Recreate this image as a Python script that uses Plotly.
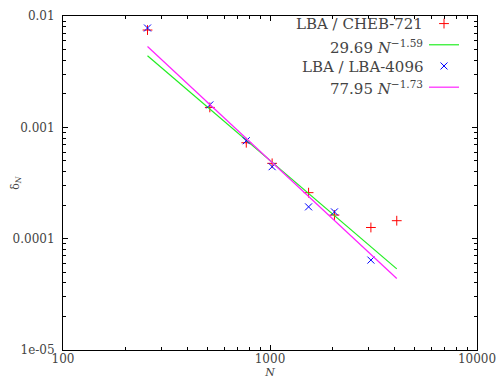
import plotly.graph_objects as go

# Convergence of the discrepancy delta_N with grid size N
N_cheb = [256, 512, 768, 1024, 1536, 2048, 3072, 4096]
delta_cheb = [0.00748, 0.00151, 0.000727, 0.000475, 0.000259, 0.000163, 0.000126, 0.000145]

N_lba = [256, 512, 768, 1024, 1536, 2048, 3072]
delta_lba = [0.00780, 0.00159, 0.000758, 0.000443, 0.000193, 0.000174, 0.0000642]

# Power-law fits  delta = a * N^b
fit_cheb = (29.69, -1.59)
fit_lba = (77.95, -1.73)
fit_N = [256, 4096]

legend_labels = [
    "LBA / CHEB-721",
    "29.69 <i>N</i><sup>−1.59</sup>",
    "LBA / LBA-4096",
    "77.95 <i>N</i><sup>−1.73</sup>",
]

x_tickvals = [100, 1000, 10000]
x_ticktext = ["100", "1000", "10000"]
y_tickvals = [1e-5, 1e-4, 1e-3, 1e-2]
y_ticktext = ["1e-05", "0.0001", "0.001", "0.01"]

SERIF = "DejaVu Serif"
TXT = "#444444"


def power_law(coef, xs):
    a, b = coef
    return [a * x ** b for x in xs]


fig = go.Figure()
fig.add_trace(go.Scatter(
    x=N_cheb, y=delta_cheb, mode="markers", name=" ",
    marker=dict(symbol="cross-thin", size=7, line=dict(color="#ff0000", width=1)),
))
fig.add_trace(go.Scatter(
    x=fit_N, y=power_law(fit_cheb, fit_N), mode="lines", name=" ",
    line=dict(color="#22ee22", width=1.2),
))
fig.add_trace(go.Scatter(
    x=N_lba, y=delta_lba, mode="markers", name=" ",
    marker=dict(symbol="x-thin", size=7, line=dict(color="#0000ff", width=1)),
))
fig.add_trace(go.Scatter(
    x=fit_N, y=power_law(fit_lba, fit_N), mode="lines", name=" ",
    line=dict(color="#ff22ff", width=1.2),
))

# Right-aligned legend captions sitting left of the legend samples
caption_y = [0.976, 0.906, 0.848, 0.783]
for text, yy in zip(legend_labels, caption_y):
    fig.add_annotation(
        x=0.874, y=yy, xref="paper", yref="paper", text=text, showarrow=False,
        xanchor="right", yanchor="middle",
        font=dict(family=SERIF, size=15, color=TXT),
    )

# y-axis label, rotated, placed in the left margin
fig.add_annotation(
    x=-0.114, y=0.5, xref="paper", yref="paper", text="δ<sub><i>N</i></sub>",
    showarrow=False, textangle=-90, xanchor="center", yanchor="middle",
    font=dict(family=SERIF, size=11, color=TXT),
)

minor_x = [k * 10 ** e for e in (2, 3) for k in range(2, 10)]
minor_y = [k * 10 ** e for e in (-5, -4, -3) for k in range(2, 10)]

axis_common = dict(
    type="log", showgrid=False, zeroline=False, showline=True,
    linecolor="black", linewidth=1, mirror="allticks", automargin=False,
    ticks="inside", ticklen=5, tickcolor="black", tickwidth=1,
    tickfont=dict(family=SERIF, size=12, color=TXT),
)

fig.update_xaxes(
    **axis_common, range=[2, 4], tickvals=x_tickvals, ticktext=x_ticktext,
    ticklabelstandoff=-2,
    minor=dict(tickvals=minor_x, ticks="inside", ticklen=3, tickcolor="black", showgrid=False),
    title=dict(text="<i>N</i>", font=dict(family=SERIF, size=11, color=TXT), standoff=0),
)
fig.update_yaxes(
    **axis_common, range=[-5, -2], tickvals=y_tickvals, ticktext=y_ticktext,
    ticklabelstandoff=5,
    minor=dict(tickvals=minor_y, ticks="inside", ticklen=3, tickcolor="black", showgrid=False),
)

fig.update_layout(
    width=497, height=381,
    margin=dict(l=63, r=20, t=16, b=31, autoexpand=False),
    plot_bgcolor="white", paper_bgcolor="white",
    showlegend=True,
    legend=dict(
        x=0.872, y=1.024, xanchor="left", yanchor="top",
        bgcolor="rgba(0,0,0,0)", borderwidth=0,
        font=dict(family=SERIF, size=14, color=TXT),
        traceorder="normal", itemwidth=30,
    ),
)

fig.write_html("out.html")
